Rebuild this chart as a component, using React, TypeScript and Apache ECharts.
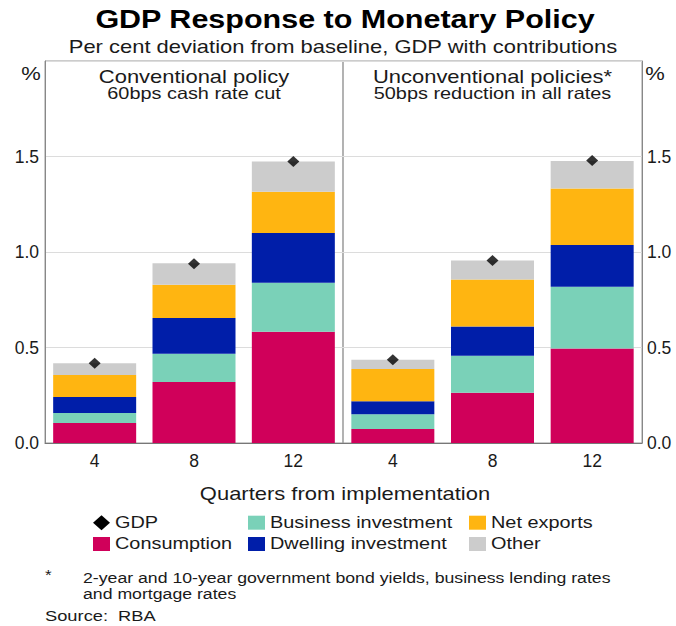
import React, { useEffect, useRef } from 'react';
import * as echarts from 'echarts';

// ---------- data ----------
const quarters = ['4', '8', '12'];
const componentNames = ['Consumption', 'Business investment', 'Dwelling investment', 'Net exports', 'Other'];
const componentColors = ['#D0005A', '#7AD1B8', '#001EA9', '#FFB511', '#CCCCCC'];

// Conventional policy: 60bps cash rate cut
const consumptionConv = [0.105, 0.32, 0.583];
const businessConv = [0.052, 0.147, 0.256];
const dwellingConv = [0.084, 0.188, 0.26];
const netExportsConv = [0.115, 0.173, 0.216];
const otherConv = [0.061, 0.113, 0.159];
const gdpConv = [0.417, 0.938, 1.474];

// Unconventional policies: 50bps reduction in all rates
const consumptionUnconv = [0.073, 0.263, 0.495];
const businessUnconv = [0.077, 0.194, 0.323];
const dwellingUnconv = [0.068, 0.153, 0.218];
const netExportsUnconv = [0.169, 0.246, 0.297];
const otherUnconv = [0.049, 0.1, 0.144];
const gdpUnconv = [0.436, 0.956, 1.479];

const yMin = 0;
const yMax = 2;
const yInterval = 0.5;

const panelTitles = [
  ['Conventional policy', '60bps cash rate cut'],
  ['Unconventional policies*', '50bps reduction in all rates'],
];
const footnoteLines = [
  '2-year and 10-year government bond yields, business lending rates',
  'and mortgage rates',
];

const FONT = '"Liberation Sans", Arial, sans-serif';
const SX = 1.22;
const TXT = '#1a1a1a';

function txt(text: string, x: number, y: number, size: number, align: string, opts: any = {}) {
  return {
    type: 'text',
    x,
    y,
    scaleX: SX,
    silent: true,
    style: {
      text,
      fontSize: size,
      fontFamily: FONT,
      fontWeight: opts.bold ? 'bold' : 'normal',
      fill: opts.color || TXT,
      textAlign: align,
      textVerticalAlign: 'middle',
    },
  };
}

export default function App() {
  const ref = useRef<HTMLDivElement>(null);

  useEffect(() => {
    document.body.style.margin = '0';
    if (!ref.current) return;
    const chart = echarts.init(ref.current, undefined, { renderer: 'svg' });

    const panels = [
      [consumptionConv, businessConv, dwellingConv, netExportsConv, otherConv, gdpConv],
      [consumptionUnconv, businessUnconv, dwellingUnconv, netExportsUnconv, otherUnconv, gdpUnconv],
    ];

    const series: any[] = [];
    panels.forEach((p, pi) => {
      for (let i = 0; i < 5; i++) {
        series.push({
          type: 'bar',
          name: componentNames[i],
          xAxisIndex: pi,
          yAxisIndex: pi,
          stack: 'panel' + pi,
          barWidth: 83,
          data: p[i],
          itemStyle: { color: componentColors[i] },
          emphasis: { disabled: true },
        });
      }
      series.push({
        type: 'scatter',
        name: 'GDP',
        xAxisIndex: pi,
        yAxisIndex: pi,
        symbol: 'diamond',
        symbolSize: [12, 11],
        data: p[5],
        itemStyle: { color: '#000' },
        z: 10,
      });
    });

    const fmt = (v: number) => (v >= yMax ? '' : v.toFixed(1));

    const axisLabelBase = { fontSize: 17.5, fontFamily: FONT, color: TXT };

    const xAxes = [0, 1].map((gi) => ({
      type: 'category',
      gridIndex: gi,
      data: quarters,
      axisTick: { show: false },
      axisLine: { lineStyle: { color: '#777', width: 1 } },
      axisLabel: { ...axisLabelBase, margin: 9 },
    }));

    const yAxes = [0, 1].map((gi) => ({
      type: 'value',
      gridIndex: gi,
      position: gi === 0 ? 'left' : 'right',
      min: yMin,
      max: yMax,
      interval: yInterval,
      axisLine: { show: true, lineStyle: { color: '#888' } },
      axisTick: { show: false },
      axisLabel: { ...axisLabelBase, margin: gi === 0 ? 6 : 5, formatter: fmt },
      splitLine: { show: true, lineStyle: { color: '#dcdcdc', width: 1 } },
    }));

    // legend built from names/colors
    const legendCols = [93, 248, 469];
    const legendTextX = [115, 270, 491];
    const legendRows = [522.7, 544];
    const legendItems = [
      { name: 'GDP', col: 0, row: 0, color: null },
      { name: componentNames[1], col: 1, row: 0, color: componentColors[1] },
      { name: componentNames[3], col: 2, row: 0, color: componentColors[3] },
      { name: componentNames[0], col: 0, row: 1, color: componentColors[0] },
      { name: componentNames[2], col: 1, row: 1, color: componentColors[2] },
      { name: componentNames[4], col: 2, row: 1, color: componentColors[4] },
    ];
    const legendGraphics: any[] = [];
    legendItems.forEach((it) => {
      const x0 = legendCols[it.col];
      const cy = legendRows[it.row];
      if (it.color) {
        legendGraphics.push({
          type: 'rect',
          silent: true,
          shape: { x: x0, y: cy - 7, width: 17, height: 14 },
          style: { fill: it.color },
        });
      } else {
        legendGraphics.push({
          type: 'polygon',
          silent: true,
          shape: {
            points: [
              [x0, cy],
              [x0 + 8.5, cy - 7.5],
              [x0 + 17, cy],
              [x0 + 8.5, cy + 7.5],
            ],
          },
          style: { fill: '#000' },
        });
      }
      legendGraphics.push(txt(it.name, legendTextX[it.col], cy, 16.3, 'left'));
    });

    const graphics: any[] = [
      txt('GDP Response to Monetary Policy', 345, 19.5, 25, 'center', { bold: true, color: '#000' }),
      txt('Per cent deviation from baseline, GDP with contributions', 343, 47, 18, 'center'),
      txt(panelTitles[0][0], 194, 77, 18, 'center'),
      txt(panelTitles[0][1], 194, 94, 16.3, 'center'),
      txt(panelTitles[1][0], 492.5, 77, 18, 'center'),
      txt(panelTitles[1][1], 492.5, 94, 16.3, 'center'),
      txt('%', 31, 73.5, 18, 'center'),
      txt('%', 655, 73.5, 18, 'center'),
      txt('Quarters from implementation', 345, 493.3, 18, 'center'),
      ...legendGraphics,
      txt('*', 45, 575, 14, 'left'),
      txt(footnoteLines[0], 83, 577.5, 14.5, 'left'),
      txt(footnoteLines[1], 83, 593.5, 14.5, 'left'),
      txt('Source:', 45, 616, 15, 'left'),
      txt('RBA', 118, 616, 15, 'left'),
    ];

    chart.setOption({
      animation: false,
      backgroundColor: '#fff',
      grid: [
        { left: 45, right: 333, top: 61, bottom: 183, show: true, borderColor: '#999', borderWidth: 1, backgroundColor: 'transparent' },
        { left: 343, right: 34, top: 61, bottom: 183, show: true, borderColor: '#999', borderWidth: 1, backgroundColor: 'transparent' },
      ],
      xAxis: xAxes,
      yAxis: yAxes,
      series,
      graphic: graphics,
    });

    return () => chart.dispose();
  }, []);

  return <div ref={ref} style={{ width: 676, height: 626 }} />;
}
